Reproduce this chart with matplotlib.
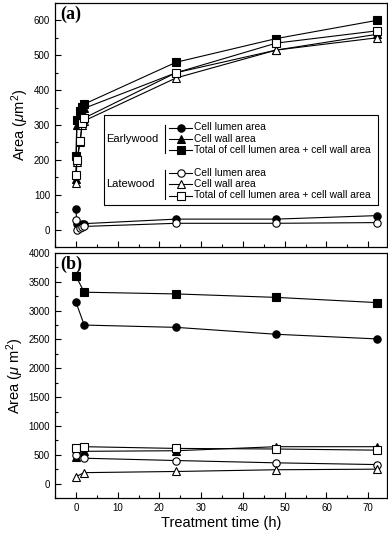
import matplotlib
matplotlib.use("Agg")
import matplotlib.pyplot as plt
from matplotlib.ticker import MultipleLocator
from matplotlib.patches import Rectangle

plt.rcParams['font.family'] = ['Liberation Sans', 'DejaVu Sans']
plt.rcParams['mathtext.fontset'] = 'custom'
plt.rcParams['mathtext.rm'] = 'Liberation Sans'
plt.rcParams['mathtext.it'] = 'Liberation Sans:italic'

# ---- data panel (a) ----
time_a = [0, 0.25, 1, 1.5, 2, 24, 48, 72]
ew_lumen_a = [60, 15, 14, 15, 17, 30, 30, 40]
ew_wall_a = [145, 300, 330, 340, 348, 450, 515, 560]
ew_total_a = [210, 315, 340, 352, 360, 480, 548, 600]
lw_lumen_a = [27, 0, 4, 7, 9, 18, 18, 20]
lw_wall_a = [133, 195, 250, 300, 312, 435, 515, 550]
lw_total_a = [157, 200, 255, 305, 320, 450, 535, 570]

# ---- data panel (b) ----
time_b = [0, 2, 24, 48, 72]
ew_lumen_b = [3150, 2750, 2710, 2590, 2510]
ew_wall_b = [460, 560, 570, 640, 640]
ew_total_b = [3600, 3320, 3290, 3230, 3140]
lw_lumen_b = [500, 440, 400, 360, 330]
lw_wall_b = [120, 190, 210, 240, 250]
lw_total_b = [620, 640, 610, 600, 580]

labels = ["Cell lumen area", "Cell wall area",
          "Total of cell lumen area + cell wall area"]
markers = ["o", "^", "s"]

fig = plt.figure(figsize=(3.88, 5.35), dpi=100)
ax_a = fig.add_axes([55/388, 1-247/535, 332/388, 244/535])
ax_b = fig.add_axes([55/388, 1-498/535, 332/388, 245/535])

ms = 5.3
lw = 0.8

def draw(ax, t, series):
    for vals, mk, filled in series:
        ax.plot(t, vals, color='black', lw=lw, marker=mk, ms=ms,
                mfc='black' if filled else 'white', mec='black', mew=0.8,
                clip_on=False, zorder=3)

draw(ax_a, time_a, [(ew_lumen_a, 'o', True), (ew_wall_a, '^', True), (ew_total_a, 's', True),
                    (lw_lumen_a, 'o', False), (lw_wall_a, '^', False), (lw_total_a, 's', False)])
draw(ax_b, time_b, [(ew_lumen_b, 'o', True), (ew_wall_b, '^', True), (ew_total_b, 's', True),
                    (lw_lumen_b, 'o', False), (lw_wall_b, '^', False), (lw_total_b, 's', False)])

for ax in (ax_a, ax_b):
    ax.set_xlim(-5, 74.5)
    ax.xaxis.set_major_locator(MultipleLocator(10))
    ax.xaxis.set_minor_locator(MultipleLocator(5))
    ax.tick_params(axis='both', which='both', direction='in', labelsize=7,
                   width=0.8)
    ax.tick_params(axis='both', which='major', length=4)
    ax.tick_params(axis='both', which='minor', length=2)
    for s in ax.spines.values():
        s.set_linewidth(0.9)

ax_a.set_ylim(-50, 650)
ax_a.yaxis.set_major_locator(MultipleLocator(100))
ax_a.yaxis.set_minor_locator(MultipleLocator(50))
ax_a.tick_params(axis='x', labelbottom=False)
ax_a.set_ylabel(r'Area ($\mathit{\mu}$m$^2$)', fontsize=10.5, labelpad=2)

ax_b.set_ylim(-250, 4000)
ax_b.yaxis.set_major_locator(MultipleLocator(500))
ax_b.yaxis.set_minor_locator(MultipleLocator(250))
ax_b.set_ylabel(r'Area ($\mathit{\mu}$ m$^2$)', fontsize=10.5, labelpad=2)
ax_b.set_xlabel('Treatment time (h)', fontsize=10.5, labelpad=2)

for ax, lab in ((ax_a, '(a)'), (ax_b, '(b)')):
    ax.text(0.015, 0.99, lab, transform=ax.transAxes, ha='left', va='top',
            fontsize=13, fontweight='bold', family='Liberation Serif')

# ---- custom legend in panel (a) ----
tr = ax_a.transAxes
def ax_x(px):
    return (px - 55) / 332
def ax_y(py):
    return (247 - py) / 244

ax_a.add_patch(Rectangle((ax_x(104), ax_y(205)), ax_x(378) - ax_x(104),
                         ax_y(115) - ax_y(205), transform=tr, fill=True,
                         facecolor='white', edgecolor='black', lw=0.8, zorder=4))
rows_ew = [127.5, 138.5, 150]
rows_lw = [172.5, 184, 195.5]
for group, rows, filled, ytxt in (("Earlywood", rows_ew, True, 139),
                                  ("Latewood", rows_lw, False, 184)):
    ax_a.text(ax_x(106), ax_y(ytxt), group, transform=tr, ha='left', va='center',
              fontsize=8, zorder=5)
    ax_a.plot([ax_x(164.5), ax_x(164.5)], [ax_y(rows[0] - 3), ax_y(rows[2] + 3)],
              transform=tr, color='black', lw=0.8, zorder=5)
    for yy, mk, lab in zip(rows, markers, labels):
        ax_a.plot([ax_x(169), ax_x(192)], [ax_y(yy), ax_y(yy)], transform=tr,
                  color='black', lw=lw, zorder=5)
        ax_a.plot([ax_x(181)], [ax_y(yy)], transform=tr, marker=mk, ms=ms,
                  mfc='black' if filled else 'white', mec='black', mew=0.8,
                  color='black', zorder=6)
        ax_a.text(ax_x(194), ax_y(yy), lab, transform=tr, ha='left', va='center',
                  fontsize=7.4, zorder=5)

fig.savefig('out.png', dpi=100)
